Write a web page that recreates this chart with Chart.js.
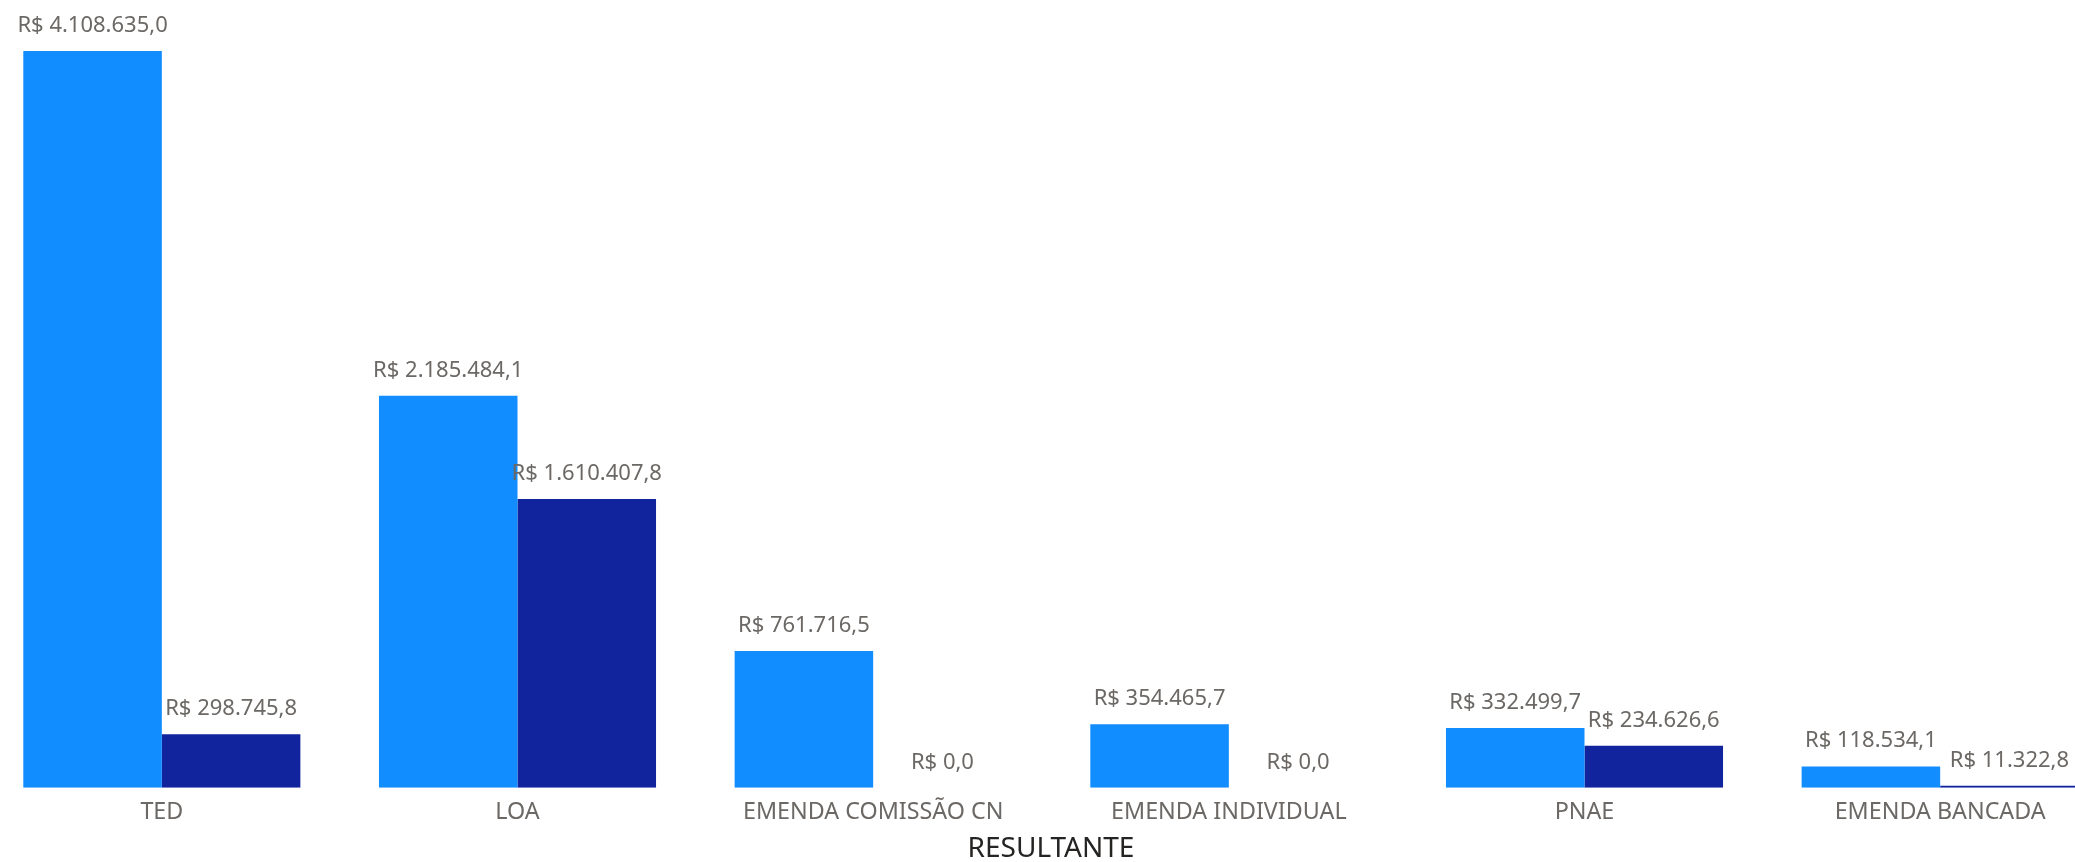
<!DOCTYPE html>
<html>
<head>
<meta charset="utf-8">
<script src="https://cdn.jsdelivr.net/npm/chart.js@4"></script>
<style>
  html, body { margin: 0; padding: 0; background: #ffffff; overflow: hidden; width: 2075px; height: 862px; }
  #wrap { position: relative; width: 2075px; height: 862px; overflow: hidden; }
  #c { position: absolute; left: -16.3px; top: 0; }
</style>
</head>
<body>
<div id="wrap"><canvas id="c" width="2134" height="862"></canvas></div>
<script>
const categories = ['TED', 'LOA', 'EMENDA COMISSÃO CN', 'EMENDA INDIVIDUAL', 'PNAE', 'EMENDA BANCADA'];
const serie1 = [4108635.0, 2185484.1, 761716.5, 354465.7, 332499.7, 118534.1];
const serie2 = [298745.8, 1610407.8, 0.0, 0.0, 234626.6, 11322.8];
const axisTitle = 'RESULTANTE';

function fmtBRL(v) {
  const fixed = Math.abs(v).toFixed(1);
  const [intPart, dec] = fixed.split('.');
  const withDots = intPart.replace(/\B(?=(\d{3})+(?!\d))/g, '.');
  return 'R$ ' + (v < 0 ? '-' : '') + withDots + ',' + dec;
}

const FONT = "'Segoe UI', 'Noto Sans', 'Open Sans', sans-serif";

const labelPlugin = {
  id: 'barLabels',
  afterDatasetsDraw(chart) {
    const ctx = chart.ctx;
    ctx.save();
    ctx.font = '22px ' + FONT;
    ctx.fillStyle = '#6b6865';
    ctx.textAlign = 'center';
    ctx.textBaseline = 'alphabetic';
    chart.data.datasets.forEach((ds, i) => {
      const meta = chart.getDatasetMeta(i);
      meta.data.forEach((bar, j) => {
        ctx.fillText(fmtBRL(ds.data[j]), bar.x, bar.y - 19);
      });
    });
    ctx.restore();
  }
};

new Chart(document.getElementById('c'), {
  type: 'bar',
  data: {
    labels: categories,
    datasets: [
      { label: 'Série 1', data: serie1, backgroundColor: '#118DFF', borderWidth: 0 },
      { label: 'Série 2', data: serie2, backgroundColor: '#12239E', borderWidth: 0 }
    ]
  },
  options: {
    responsive: false,
    animation: false,
    devicePixelRatio: 1,
    layout: { padding: 0 },
    categoryPercentage: 0.779,
    barPercentage: 1.0,
    plugins: { legend: { display: false }, tooltip: { enabled: false } },
    scales: {
      x: {
        grid: { display: false, drawTicks: false },
        border: { display: false },
        ticks: { color: '#6b6865', font: { family: FONT, size: 23.3 }, padding: 11, maxRotation: 0, autoSkip: false },
        title: { display: true, text: axisTitle, color: '#252423', font: { family: FONT, size: 28 }, padding: { top: 0, bottom: -4 } },
        afterFit: (scale) => { scale.height = 74.3; }
      },
      y: {
        display: false,
        min: 0,
        max: 4393060
      }
    }
  },
  plugins: [labelPlugin]
});
</script>
</body>
</html>
